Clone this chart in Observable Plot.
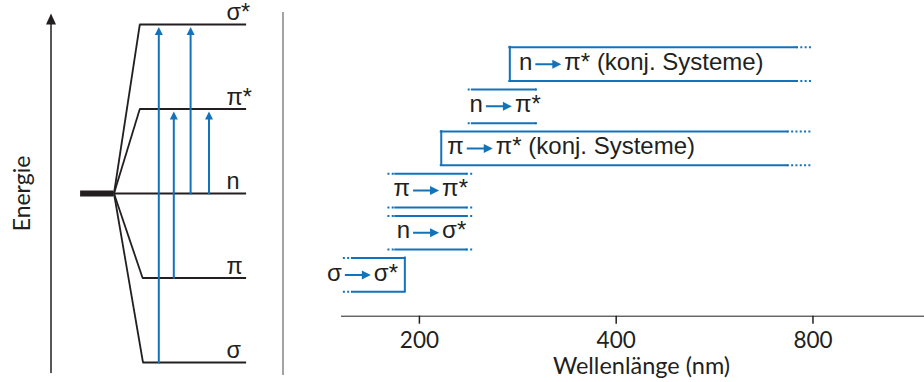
<!DOCTYPE html>
<html>
<head>
<meta charset="utf-8">
<script src="https://cdn.jsdelivr.net/npm/d3@7"></script>
<script src="https://cdn.jsdelivr.net/npm/@observablehq/plot@0.6"></script>
<style>
  body { margin: 0; background: #fff; }
  #wrap { position: relative; width: 924px; height: 382px; overflow: hidden; background: #fff; }
  #left { position: absolute; left: 0; top: 0; }
  #right { position: absolute; left: 290px; top: 0; }
  #divider { position: absolute; left: 282px; top: 12px; width: 1.6px; height: 363px; background: #a3a3a3; }
  #right svg g[aria-label="x-axis"] path, #right svg g[aria-label="x-axis"] line,
  #right svg g[aria-label="x-axis tick"] path, #right svg g[aria-label="x-axis tick"] line { stroke-width: 1.5px; }
</style>
</head>
<body>
<div id="wrap"><div id="left"></div><div id="divider"></div><div id="right"></div></div>
<script>
// ---------- Left panel: energy-level diagram (schematic units) ----------
const levels       = ["σ", "π", "n", "π*", "σ*"];
const levelEnergy  = [0, 1, 2, 3, 4];
const levelStartX  = [4.6, 4.58, 3.15, 4.44, 4.44];
const levelEndX    = 9.78;
const splitPoint   = {x: 3.15, e: 2};
const atomBar      = [1.48, 3.15];
const transFrom    = ["σ", "π", "n", "n"];
const transTo      = ["σ*", "π*", "σ*", "π*"];
const transX       = [5.39, 6.14, 6.98, 7.9];
const energyAxis   = {x: 0, e1: -0.118, e2: 4.13};
const levelLabelX  = 8.775;
const energyLabel  = "Energie";
const energyLabelX = -1.425;

// ---------- Right panel: wavelength ranges ----------
const fromSym      = ["σ", "n", "π", "π", "n", "n"];
const toText       = ["σ*", "σ*", "π*", "π* (konj. Systeme)", "π*", "π* (konj. Systeme)"];
const nmLow        = [158, 184, 184, 216, 241, 275];
const nmHigh       = [190, 236, 236, 731, 301, 755];
const nmLowDotted  = [153, 179, 179, null, 237.5, null];  // open (uncertain) lower end
const nmHighDotted = [null, 243, 243, 795, 305, 799];     // open (uncertain) upper end
const xTicks       = [200, 400, 800];
const xLabel       = "Wellenlänge (nm)";

const ink = "#231f20";
const blue = "#1272ba";
const symFont = "Liberation Sans, Arial, sans-serif";
const uiFont = "Lato, 'Noto Sans', sans-serif";

const upHead = (len, half, gap) => ({
  draw(ctx) { ctx.moveTo(0, gap); ctx.lineTo(half, gap + len); ctx.lineTo(-half, gap + len); ctx.closePath(); }
});
const rightArrow = {
  draw(ctx) {
    ctx.moveTo(-13, -1); ctx.lineTo(4, -1); ctx.lineTo(4, -4.5); ctx.lineTo(13, 0);
    ctx.lineTo(4, 4.5); ctx.lineTo(4, 1); ctx.lineTo(-13, 1); ctx.closePath();
  }
};

const E = Object.fromEntries(levels.map((l, i) => [l, levelEnergy[i]]));
const levelRows = levels.map((l, i) => ({l, e: levelEnergy[i], x1: levelStartX[i], x2: levelEndX}));
const transRows = transFrom.map((f, i) => ({x: transX[i], e1: E[f], e2: E[transTo[i]]}));

const leftPlot = Plot.plot({
  width: 282, height: 382, margin: 0,
  x: {domain: [-2.525, 11.575], axis: null},
  y: {domain: [-0.2367, 4.284], axis: null},
  style: {background: "transparent", color: ink, fontFamily: symFont, fontSize: "23px", overflow: "visible"},
  marks: [
    Plot.link(levelRows.filter(d => d.l !== "n"), {x1: () => splitPoint.x, y1: () => splitPoint.e, x2: "x1", y2: "e", stroke: ink, strokeWidth: 1.8}),
    Plot.ruleY(levelRows, {y: "e", x1: "x1", x2: "x2", stroke: ink, strokeWidth: 2}),
    Plot.ruleY([splitPoint], {y: "e", x1: () => atomBar[0], x2: () => atomBar[1], stroke: ink, strokeWidth: 6}),
    Plot.arrow([energyAxis], {x1: "x", x2: "x", y1: "e1", y2: "e2", headLength: 0, insetEnd: 6, stroke: ink, strokeWidth: 1.5}),
    Plot.dot([energyAxis], {x: "x", y: "e2", symbol: upHead(11, 5, 0), fill: ink, stroke: "none"}),
    Plot.arrow(transRows, {x1: "x", x2: "x", y1: "e1", y2: "e2", headLength: 0, insetEnd: 6, stroke: blue, strokeWidth: 2}),
    Plot.dot(transRows, {x: "x", y: "e2", symbol: upHead(8, 4, 2.5), fill: blue, stroke: "none"}),
    Plot.text(levelRows, {x: () => levelLabelX, y: "e", text: "l", textAnchor: "start", lineAnchor: "bottom", dy: -4, fontSize: 23.5, fontFamily: symFont, fill: ink}),
    Plot.text([energyLabel], {x: () => energyLabelX, y: () => 2, text: d => d, rotate: -90, fontSize: 23, fontFamily: uiFont, fill: ink})
  ]
});
document.getElementById("left").appendChild(leftPlot);

// ---------- right panel ----------
const bandHalf = 0.4;
const rows = fromSym.map((f, i) => {
  const d = {i, from: f, to: toText[i], lo: nmLow[i], hi: nmHigh[i], loDot: nmLowDotted[i], hiDot: nmHighDotted[i]};
  d.kind = d.loDot == null ? "closedLeft" : d.hiDot == null ? "closedRight" : "open";
  d.anchor = d.kind === "closedLeft" ? d.lo : d.kind === "closedRight" ? d.hi : Math.sqrt(d.lo * d.hi);
  return d;
});
const edges = rows.flatMap(d => [-1, 1].map(s => ({...d, y: d.i + s * bandHalf})));
const dotted = edges.flatMap(d => [
  ...(d.loDot != null ? [{y: d.y, x1: d.loDot, x2: d.lo}] : []),
  ...(d.hiDot != null ? [{y: d.y, x1: d.hi, x2: d.hiDot}] : [])
]);
const closedEnds = rows.filter(d => d.kind !== "open").map(d => ({x: d.kind === "closedLeft" ? d.lo : d.hi, y1: d.i - bandHalf, y2: d.i + bandHalf}));
const shift = {closedLeft: 38.5, closedRight: -47, open: -5};
const labelMarks = kind => {
  const data = rows.filter(d => d.kind === kind), s = shift[kind];
  return [
    Plot.text(data, {x: "anchor", y: "i", text: "from", textAnchor: "end", dx: s - 16, dy: -2, fontSize: 24, fontFamily: symFont, fill: ink}),
    Plot.dot(data, {x: "anchor", y: "i", symbol: rightArrow, fill: blue, stroke: "none", dx: s}),
    Plot.text(data, {x: "anchor", y: "i", text: "to", textAnchor: "start", dx: s + 16, dy: -2, fontSize: 24, fontFamily: symFont, fill: ink})
  ];
};

const rightPlot = Plot.plot({
  width: 634, height: 382,
  marginLeft: 51, marginRight: 0, marginTop: 20, marginBottom: 66.3,
  x: {type: "log", domain: [152, 1185], ticks: xTicks, tickFormat: d => String(d), line: true,
      tickSize: 8, tickPadding: 8, label: null},
  y: {domain: [0, 5], range: [274.4, 63.7], axis: null},
  style: {background: "transparent", color: ink, fontFamily: uiFont, fontSize: "22.5px", overflow: "visible"},
  marks: [
    Plot.ruleY(edges, {y: "y", x1: "lo", x2: "hi", stroke: blue, strokeWidth: 2, strokeLinecap: "square"}),
    Plot.ruleY(dotted, {y: "y", x1: "x1", x2: "x2", stroke: blue, strokeWidth: 2, strokeDasharray: "2,2.3"}),
    Plot.ruleX(closedEnds, {x: "x", y1: "y1", y2: "y2", stroke: blue, strokeWidth: 2, strokeLinecap: "square"}),
    ...labelMarks("closedLeft"),
    ...labelMarks("closedRight"),
    ...labelMarks("open"),
    Plot.text([xLabel], {text: d => d, frameAnchor: "bottom", lineAnchor: "bottom", dx: 8.5, dy: 57.5, fontSize: 23.5, fontFamily: uiFont, fill: ink})
  ]
});
document.getElementById("right").appendChild(rightPlot);
</script>
</body>
</html>
